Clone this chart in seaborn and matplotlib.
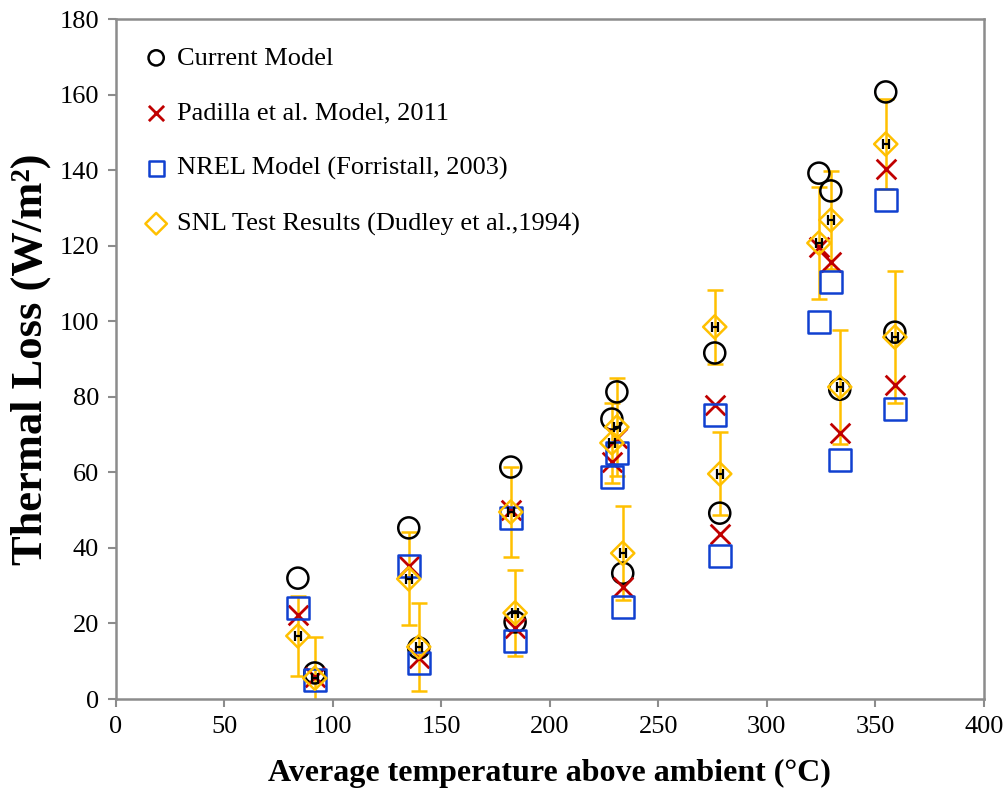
import matplotlib
matplotlib.use("Agg")
import matplotlib.pyplot as plt
import seaborn as sns
import numpy as np

# Average temperature above ambient (°C) for each test point
temp = [83.9, 91.7, 135.0, 139.6, 182.0, 184.0, 228.6, 230.9, 233.6,
        276.0, 278.3, 324.0, 329.5, 333.6, 354.8, 359.0]

# Thermal loss (W/m²) per model / test
current_model = [32.0, 6.9, 45.3, 13.5, 61.4, 20.4, 74.1, 81.3, 33.3,
                 91.6, 49.2, 139.2, 134.5, 82.0, 160.7, 97.1]
padilla_2011 = [22.2, 5.8, 35.2, 10.9, 50.0, 18.8, 62.7, 69.0, 29.6,
                77.8, 43.7, 119.6, 115.7, 70.4, 140.3, 83.1]
nrel_2003 = [24.1, 5.0, 35.2, 9.5, 47.9, 15.4, 58.8, 65.1, 24.4,
             75.2, 37.9, 99.8, 110.4, 63.3, 132.1, 76.8]
snl_1994 = [16.7, 5.5, 31.8, 13.8, 49.5, 22.8, 67.8, 72.0, 38.6,
            98.5, 59.6, 120.7, 126.8, 82.6, 146.9, 95.8]
snl_err = [10.6, 11.0, 12.3, 11.6, 11.8, 11.4, 10.5, 13.0, 12.4,
           9.7, 11.0, 14.7, 13.0, 15.2, 12.0, 17.5]
temp_err = [1.4] * 16

labels = ["Current Model", "Padilla et al. Model, 2011",
          "NREL Model (Forristall, 2003)", "SNL Test Results (Dudley et al.,1994)"]

sns.set_theme(style="white")
plt.rcParams["font.family"] = ["Liberation Serif", "DejaVu Serif"]
plt.rcParams["mathtext.fontset"] = "stix"
plt.rcParams["text.color"] = "black"
plt.rcParams["axes.labelcolor"] = "black"

fig = plt.figure(figsize=(10.07, 7.92), dpi=100)
ax = fig.add_axes([0.115, 0.1174, 0.862, 0.8586])

gold = "#FFC000"

# SNL measurement uncertainty
ax.errorbar(temp, snl_1994, yerr=snl_err, fmt="none", ecolor=gold,
            elinewidth=1.8, capsize=6, capthick=1.8, zorder=1)

sns.scatterplot(x=temp, y=current_model, ax=ax, marker="o", s=230,
                color="none", edgecolor="black", linewidth=1.8,
                label=labels[0], zorder=3)
sns.scatterplot(x=temp, y=padilla_2011, ax=ax, marker="x", s=200,
                color="#C00000", linewidth=2.0, label=labels[1], zorder=3)
sns.scatterplot(x=temp, y=nrel_2003, ax=ax, marker="s", s=250,
                color="none", edgecolor="#1040D0", linewidth=1.8,
                label=labels[2], zorder=3)
sns.scatterplot(x=temp, y=snl_1994, ax=ax, marker="D", s=140,
                color="none", edgecolor=gold, linewidth=1.8,
                label=labels[3], zorder=4)

# temperature uncertainty of the SNL points
ax.errorbar(temp, snl_1994, xerr=temp_err, fmt="none", ecolor="black",
            elinewidth=1.6, capsize=3.5, capthick=1.6, zorder=5)

ax.set_xlim(0, 400)
ax.set_ylim(0, 180)
ax.set_xticks(np.arange(0, 401, 50))
ax.set_yticks(np.arange(0, 181, 20))
ax.tick_params(axis="both", which="major", labelsize=19, colors="black",
               direction="out", length=6, width=1.5, color="#8c8c8c",
               bottom=True, left=True, top=False, right=False, pad=6)
for sp in ax.spines.values():
    sp.set_color("#8c8c8c")
    sp.set_linewidth(1.8)

ax.set_xlabel("Average temperature above ambient (°C)", fontsize=23,
              fontweight="bold", labelpad=15, color="black")
ax.set_ylabel("Thermal Loss (W/m²)", fontsize=32, fontweight="bold",
              labelpad=6, color="black")

leg = ax.legend(loc="upper left", frameon=False, fontsize=19,
                labelspacing=1.2, handletextpad=0.3, handlelength=1.0,
                borderaxespad=0.3, bbox_to_anchor=(0.01, 0.987),
                labelcolor="black")
for h in leg.legend_handles:
    h.set_sizes([120])

fig.savefig("out.png", dpi=100, facecolor="white")
